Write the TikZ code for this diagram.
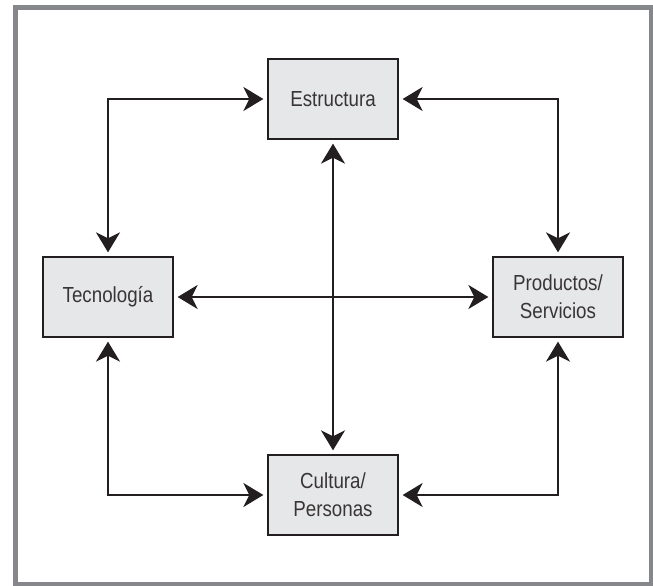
\documentclass[tikz,border=0pt]{standalone}
\usepackage{fontspec}
\setmainfont[FakeStretch=0.86]{Liberation Sans}
\usetikzlibrary{arrows.meta}
\definecolor{boxfill}{HTML}{E6E7E8}
\definecolor{ink}{HTML}{231F20}
\definecolor{framegray}{HTML}{86878A}
\begin{document}
\begin{tikzpicture}[x=1pt,y=-1pt,
  box/.style={draw=ink, line width=1.3pt, fill=boxfill, minimum width=130pt, minimum height=80pt,
    inner sep=0pt, align=center, font=\fontsize{21.8}{28}\selectfont, text=ink!90},
  link/.style={draw=ink, line width=2.6pt, {Stealth[length=20pt,width=24pt,inset=6pt]}-{Stealth[length=20pt,width=24pt,inset=6pt]},
    shorten <=4pt, shorten >=4pt}
]
\useasboundingbox (0,0) rectangle (653,586);
\fill[white] (0,0) rectangle (653,586);
\draw[framegray, line width=5pt] (15.8,8) rectangle (651,584.5);

\node[box] (est) at (333,99) {Estructura};
\node[box] (tec) at (108,297) {Tecnología};
\node[box] (pro) at (558,297) {Productos/\\Servicios};
\node[box] (cul) at (333,495) {Cultura/\\Personas};

\draw[link] (tec.north) |- (est.west);
\draw[link] (est.east) -| (pro.north);
\draw[link] (tec.south) |- (cul.west);
\draw[link] (cul.east) -| (pro.south);
\draw[link] (est.south) -- (cul.north);
\draw[link] (tec.east) -- (pro.west);
\end{tikzpicture}
\end{document}
